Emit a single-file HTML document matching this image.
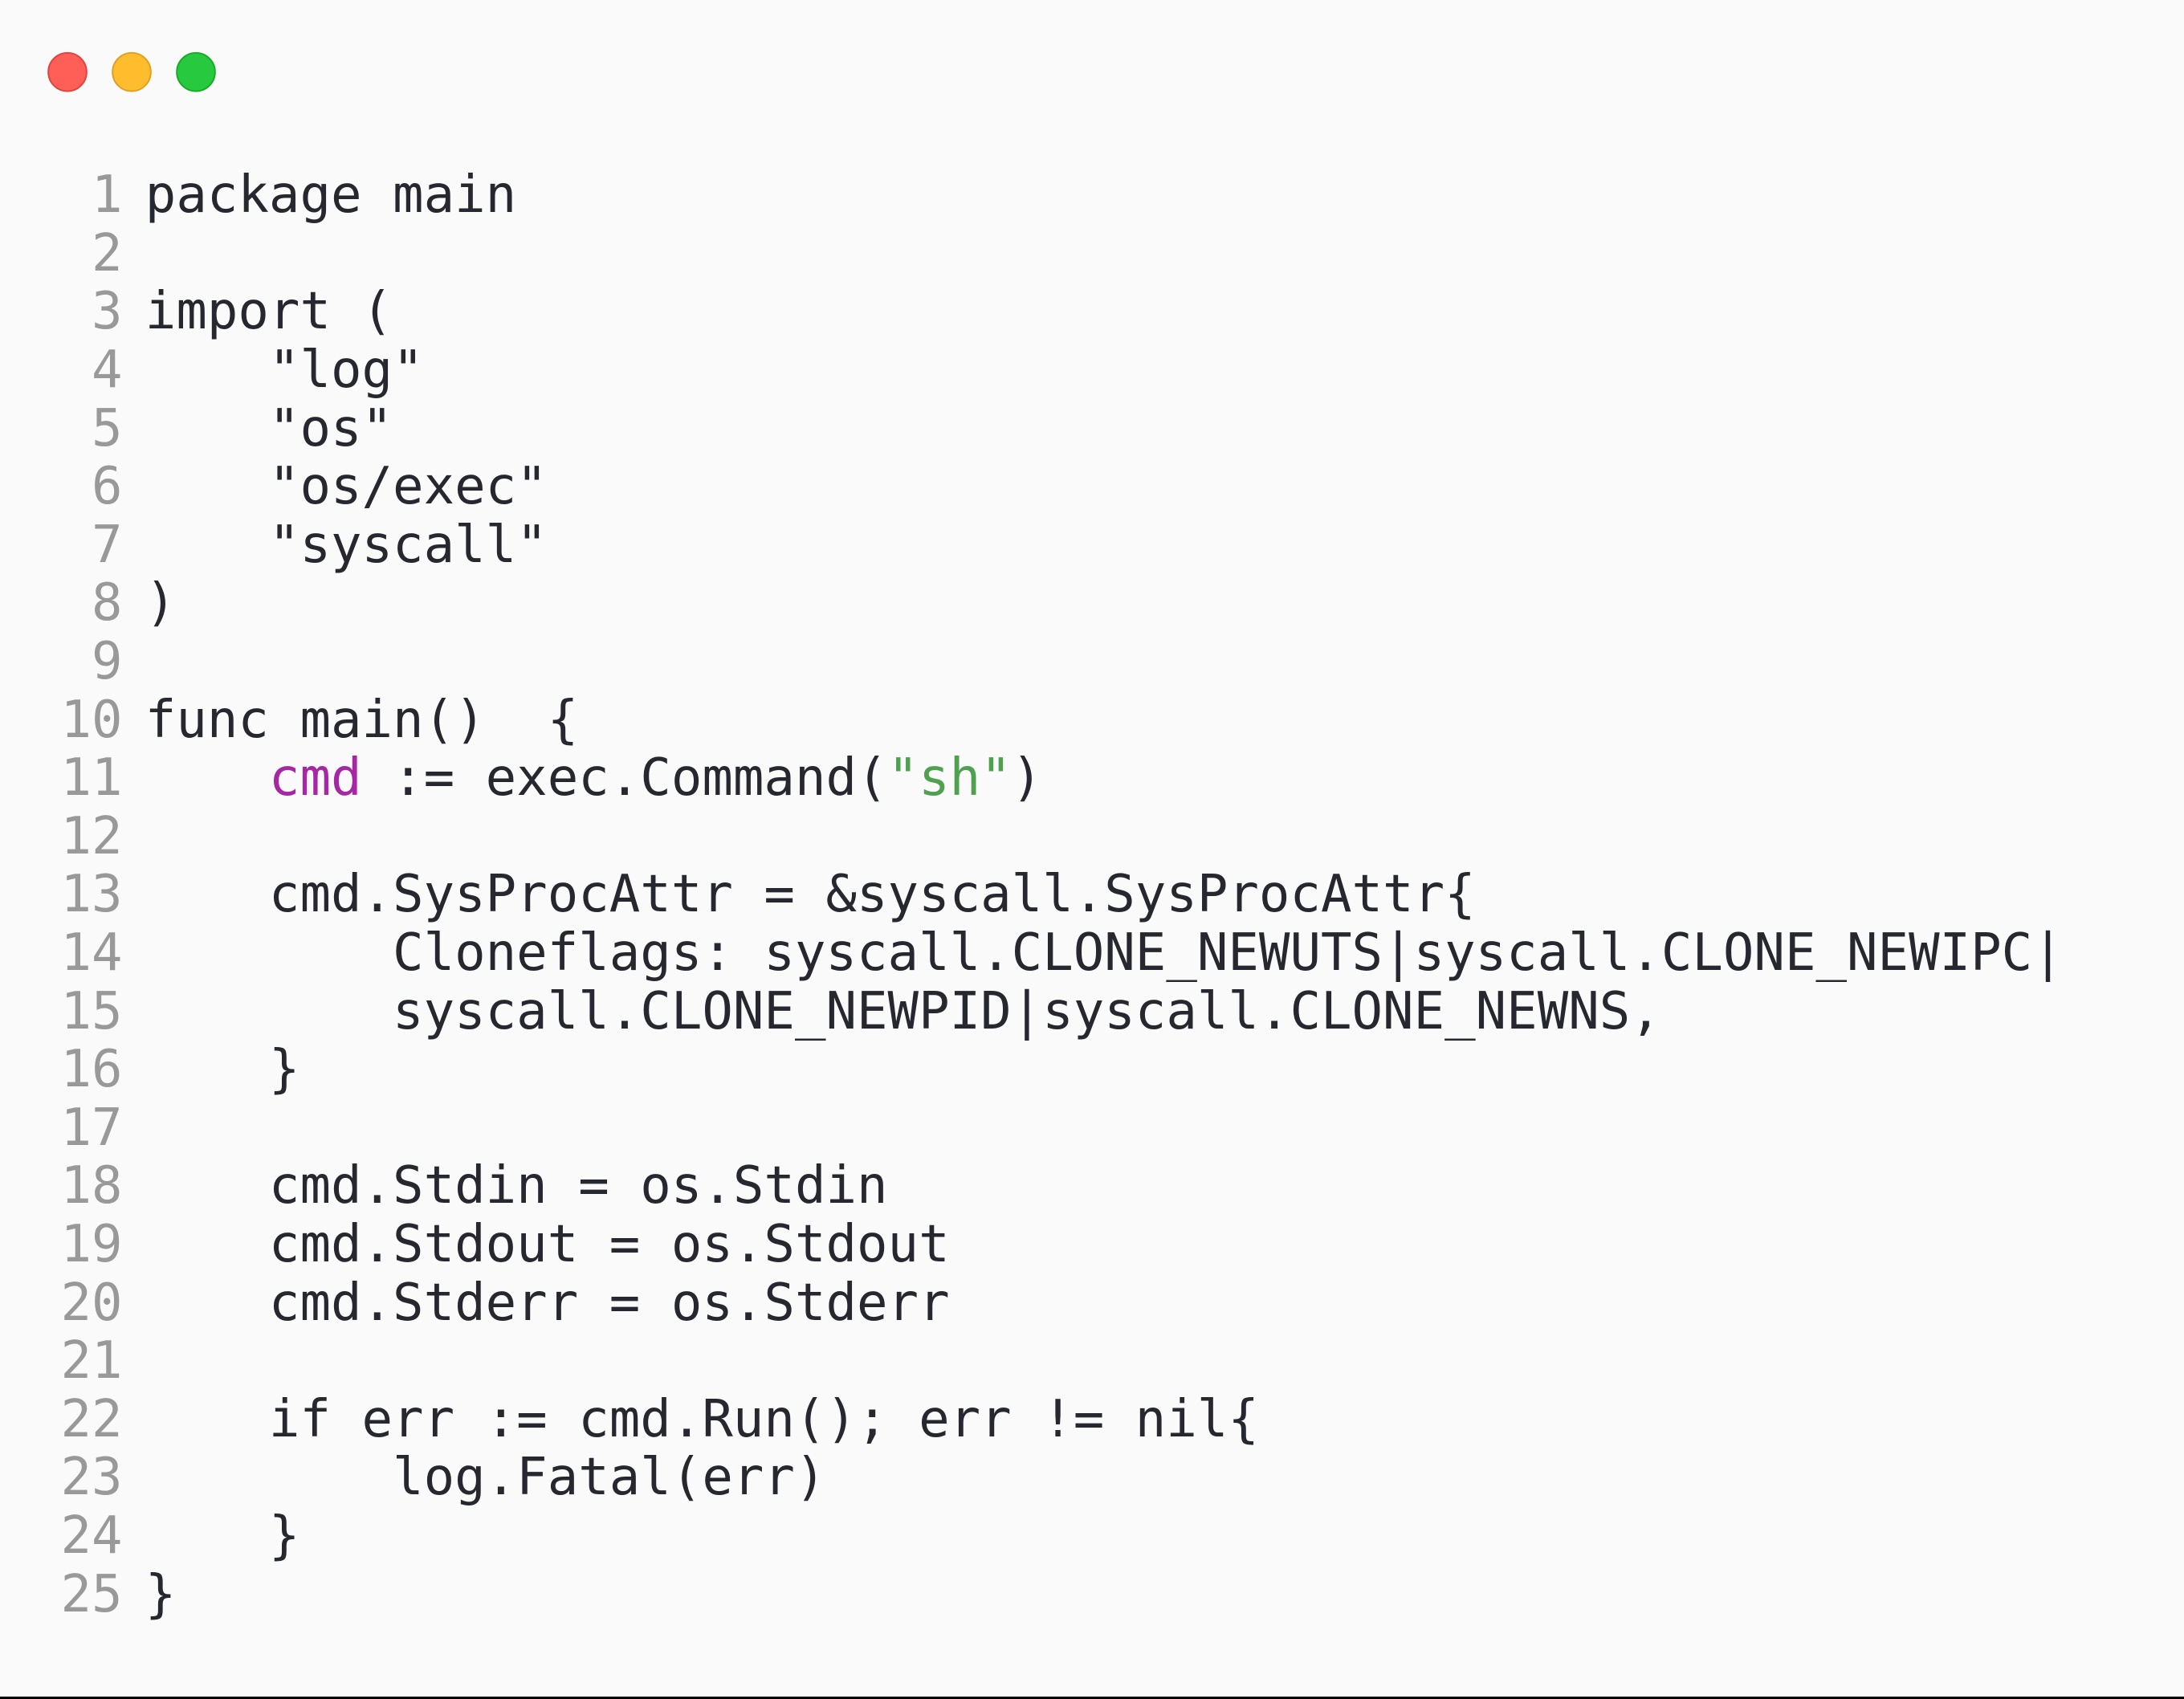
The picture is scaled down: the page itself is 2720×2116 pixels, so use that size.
<!DOCTYPE html>
<html>
<head>
<meta charset="utf-8">
<style>
  html, body { margin:0; padding:0; }
  body { width:2720px; height:2116px; background:#fafafa; position:relative; overflow:hidden; }
  .dots { position:absolute; left:0; top:0; }
  .wrap { position:absolute; left:1.5px; top:3px; }
  .ln, .cd { position:absolute; height:72.6px; line-height:72.6px; font-family:"DejaVu Sans Mono", "Liberation Mono", monospace; font-size:64px; white-space:pre; }
  .ln { left:0; width:151px; text-align:right; color:#999999; }
  .cd { left:179.3px; color:#27282f; }
  .p { color:#a626a4; }
  .g { color:#50a14f; }
  .bar { position:absolute; left:0; top:2113px; width:2720px; height:3px; background:#000; }
</style>
</head>
<body>
<svg class="dots" width="300" height="160" xmlns="http://www.w3.org/2000/svg">
  <circle cx="84" cy="89.7" r="23.8" fill="#ff5f56" stroke="#e0443e" stroke-width="2"/>
  <circle cx="164" cy="89.7" r="23.8" fill="#ffbd2e" stroke="#dea123" stroke-width="2"/>
  <circle cx="244" cy="89.7" r="23.8" fill="#27c93f" stroke="#1aab29" stroke-width="2"/>
</svg>
<div class="wrap">
<div class="ln" style="top:204.25px">1</div><div class="cd" style="top:204.25px">package main</div>
<div class="ln" style="top:276.85px">2</div><div class="cd" style="top:276.85px"></div>
<div class="ln" style="top:349.45px">3</div><div class="cd" style="top:349.45px">import (</div>
<div class="ln" style="top:422.05px">4</div><div class="cd" style="top:422.05px">    "log"</div>
<div class="ln" style="top:494.65px">5</div><div class="cd" style="top:494.65px">    "os"</div>
<div class="ln" style="top:567.25px">6</div><div class="cd" style="top:567.25px">    "os/exec"</div>
<div class="ln" style="top:639.85px">7</div><div class="cd" style="top:639.85px">    "syscall"</div>
<div class="ln" style="top:712.45px">8</div><div class="cd" style="top:712.45px">)</div>
<div class="ln" style="top:785.05px">9</div><div class="cd" style="top:785.05px"></div>
<div class="ln" style="top:857.65px">10</div><div class="cd" style="top:857.65px">func main()  {</div>
<div class="ln" style="top:930.25px">11</div><div class="cd" style="top:930.25px">    <span class="p">cmd</span> := exec.Command(<span class="g">"sh"</span>)</div>
<div class="ln" style="top:1002.85px">12</div><div class="cd" style="top:1002.85px"></div>
<div class="ln" style="top:1075.45px">13</div><div class="cd" style="top:1075.45px">    cmd.SysProcAttr = &amp;syscall.SysProcAttr{</div>
<div class="ln" style="top:1148.05px">14</div><div class="cd" style="top:1148.05px">        Cloneflags: syscall.CLONE_NEWUTS|syscall.CLONE_NEWIPC|</div>
<div class="ln" style="top:1220.65px">15</div><div class="cd" style="top:1220.65px">        syscall.CLONE_NEWPID|syscall.CLONE_NEWNS,</div>
<div class="ln" style="top:1293.25px">16</div><div class="cd" style="top:1293.25px">    }</div>
<div class="ln" style="top:1365.85px">17</div><div class="cd" style="top:1365.85px"></div>
<div class="ln" style="top:1438.45px">18</div><div class="cd" style="top:1438.45px">    cmd.Stdin = os.Stdin</div>
<div class="ln" style="top:1511.05px">19</div><div class="cd" style="top:1511.05px">    cmd.Stdout = os.Stdout</div>
<div class="ln" style="top:1583.65px">20</div><div class="cd" style="top:1583.65px">    cmd.Stderr = os.Stderr</div>
<div class="ln" style="top:1656.25px">21</div><div class="cd" style="top:1656.25px"></div>
<div class="ln" style="top:1728.85px">22</div><div class="cd" style="top:1728.85px">    if err := cmd.Run(); err != nil{</div>
<div class="ln" style="top:1801.45px">23</div><div class="cd" style="top:1801.45px">        log.Fatal(err)</div>
<div class="ln" style="top:1874.05px">24</div><div class="cd" style="top:1874.05px">    }</div>
<div class="ln" style="top:1946.65px">25</div><div class="cd" style="top:1946.65px">}</div>
</div>
<div class="bar"></div>
</body>
</html>
